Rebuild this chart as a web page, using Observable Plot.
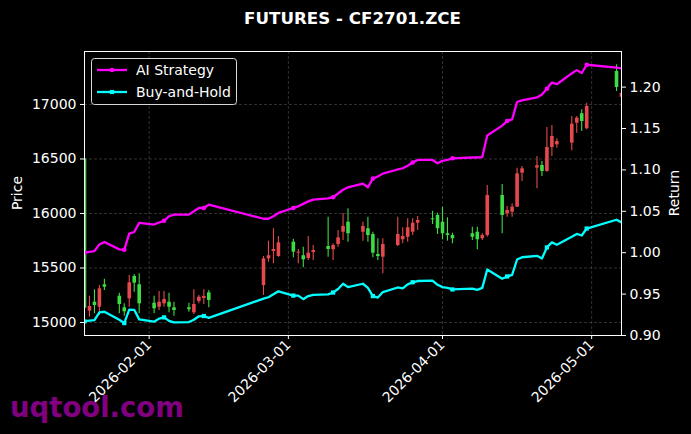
<!DOCTYPE html>
<html>
<head>
<meta charset="utf-8">
<script src="https://cdn.jsdelivr.net/npm/d3@7"></script>
<script src="https://cdn.jsdelivr.net/npm/@observablehq/plot@0.6"></script>
<style>
  html, body { margin: 0; padding: 0; background: #000; }
  #wrap { position: relative; width: 691px; height: 434px; background: #000; overflow: hidden; }
  #wrap > svg { position: absolute; left: 0; top: 0; }
</style>
</head>
<body>
<div id="wrap"></div>
<script>
// ---------------- data ----------------
const dates = [
  "2026-01-19","2026-01-20","2026-01-21","2026-01-22","2026-01-23",
  "2026-01-26","2026-01-27","2026-01-28","2026-01-29","2026-01-30",
  "2026-02-02","2026-02-03","2026-02-04","2026-02-05","2026-02-06",
  "2026-02-09","2026-02-10","2026-02-11","2026-02-12","2026-02-13",
  "2026-02-24","2026-02-25","2026-02-26","2026-02-27",
  "2026-03-02","2026-03-03","2026-03-04","2026-03-05","2026-03-06",
  "2026-03-09","2026-03-10","2026-03-11","2026-03-12","2026-03-13",
  "2026-03-16","2026-03-17","2026-03-18","2026-03-19","2026-03-20",
  "2026-03-23","2026-03-24","2026-03-25","2026-03-26","2026-03-27",
  "2026-03-30","2026-03-31","2026-04-01","2026-04-02","2026-04-03",
  "2026-04-07","2026-04-08","2026-04-09","2026-04-10",
  "2026-04-13","2026-04-14","2026-04-15","2026-04-16","2026-04-17",
  "2026-04-20","2026-04-21","2026-04-22","2026-04-23","2026-04-24",
  "2026-04-27","2026-04-28","2026-04-29","2026-04-30",
  "2026-05-06","2026-05-07"
];
const opens = [
  16500,15104,15186,15140,15346,
  15241,15135,15217,15422,15346,
  15177,15140,15171,15186,15135,
  15135,15089,15193,15220,15272,
  15339,15584,15651,15605,
  15737,15636,15612,15587,15642,
  15697,15667,15716,15828,15920,
  15828,15860,15807,15624,15599,
  15706,15759,15782,15828,15911,
  15951,15982,15920,15814,15798,
  15814,15828,15768,15798,
  16165,15997,16012,16058,16370,
  16416,16440,16385,16605,16630,
  16645,16828,16915,16777,
  17303,17067
];
const highs = [
  16500,15241,15300,15339,15397,
  15269,15171,15431,15440,15447,
  15241,15284,15284,15269,15186,
  15177,15300,15248,15300,15294,
  15605,15746,15860,15789,
  15764,15670,15691,15789,15706,
  15966,15722,15844,16000,16043,
  15920,15966,15828,15768,15768,
  15966,15869,15951,15951,15972,
  16021,16003,16058,15960,15819,
  15874,15874,15816,16257,
  16266,16064,16089,16416,16431,
  16523,16477,16789,16807,16685,
  16890,16890,16951,17012,
  17364,17110
];
const lows = [
  14800,15049,15080,15064,15294,
  15080,15058,15140,15278,15080,
  15080,15110,15140,15089,15058,
  15094,15073,15171,15165,15135,
  15248,15553,15539,15599,
  15593,15539,15502,15569,15569,
  15599,15569,15691,15752,15737,
  15746,15737,15593,15569,15447,
  15697,15722,15737,15798,15844,
  15899,15807,15759,15746,15722,
  15752,15667,15752,15782,
  15814,15966,15966,16055,16294,
  16227,16339,16379,16523,16599,
  16575,16737,16752,16768,
  17119,17060
];
const closes = [
  15130,15147,15156,15309,15324,
  15165,15098,15364,15361,15171,
  15126,15186,15211,15140,15110,
  15117,15165,15232,15238,15202,
  15584,15612,15670,15731,
  15645,15645,15575,15636,15660,
  15670,15706,15777,15881,15814,
  15881,15798,15636,15605,15716,
  15807,15789,15869,15911,15936,
  15942,15860,15814,15798,15768,
  15782,15759,15798,16165,
  15982,16027,16058,16364,16410,
  16438,16385,16605,16706,16660,
  16819,16874,16844,16982,
  17156,17104
];
const aiReturn = [
  1.000,1.001,1.002,1.010,1.013,
  1.004,1.0035,1.023,1.025,1.036,
  1.034,1.0365,1.0385,1.044,1.046,
  1.046,1.050,1.054,1.054,1.058,
  1.041,1.041,1.044,1.048,
  1.054,1.056,1.059,1.062,1.064,
  1.0655,1.067,1.0715,1.076,1.079,
  1.0835,1.079,1.0895,1.092,1.0955,
  1.1005,1.102,1.105,1.109,1.112,
  1.112,1.108,1.111,1.112,1.114,
  1.115,1.115,1.1155,1.1415,
  1.1535,1.159,1.161,1.182,1.184,
  1.1875,1.191,1.198,1.2055,1.2035,
  1.2165,1.2205,1.217,1.227,
  1.2235,1.2225
];
const bhReturn = [
  0.917,0.918,0.9185,0.928,0.9287,
  0.9191,0.915,0.9312,0.931,0.9195,
  0.9167,0.9204,0.9219,0.9176,0.9158,
  0.9162,0.9191,0.9232,0.9235,0.9213,
  0.9445,0.9462,0.9497,0.9534,
  0.9482,0.9482,0.9439,0.9476,0.9491,
  0.9497,0.9519,0.9562,0.9625,0.9584,
  0.9625,0.9575,0.9476,0.9458,0.9525,
  0.958,0.9569,0.9618,0.9643,0.9658,
  0.9662,0.9612,0.9584,0.9575,0.9556,
  0.9565,0.9551,0.9575,0.9797,
  0.9686,0.9713,0.9732,0.9918,0.9945,
  0.9962,0.993,1.0064,1.0125,1.0097,
  1.0193,1.0227,1.0208,1.0292,
  1.0398,1.0366
];
const xTickLabels = ["2026-02-01","2026-03-01","2026-04-01","2026-05-01"];
const priceTicks = [15000,15500,16000,16500,17000];
const returnTicks = [0.90,0.95,1.00,1.05,1.10,1.15,1.20];
const seriesNames = ["AI Strategy","Buy-and-Hold"];
const titleText = "FUTURES - CF2701.ZCE";

// ---------------- build ----------------
const UP = "#e5484d", DOWN = "#3ddc44", MAG = "#ff00ff", CYA = "#00ffff";
const rows = dates.map((d, i) => ({
  date: new Date(d + "T00:00:00Z"),
  open: opens[i], high: highs[i], low: lows[i], close: closes[i],
  ai: aiReturn[i], bh: bhReturn[i], idx: i,
  color: closes[i] >= opens[i] ? UP : DOWN
}));
const marked = rows.filter(d => d.idx % 6 === 0);
const xDomain = [new Date("2026-01-19T00:00:00Z"), new Date("2026-05-07T00:00:00Z")];
const xTicks = xTickLabels.map(s => new Date(s + "T00:00:00Z"));
const common = {
  width: 691, height: 434,
  marginTop: 51, marginBottom: 99, marginLeft: 84, marginRight: 70,
  style: { background: "none", color: "#ffffff", fontFamily: "DejaVu Sans, sans-serif", fontSize: "14px", overflow: "visible" }
};
const gridStyle = { stroke: "#808080", strokeOpacity: 0.55, strokeWidth: 0.7, strokeDasharray: "3,2" };

const p1 = Plot.plot({
  ...common,
  x: { type: "utc", domain: xDomain, label: null },
  y: { domain: [14880.7, 17486], label: null },
  marks: [
    Plot.gridX(xTicks, gridStyle),
    Plot.gridY(priceTicks, gridStyle),
    Plot.ruleX(rows, { x: "date", y1: "low", y2: "high", stroke: "color", strokeWidth: 1.1, clip: true }),
    Plot.ruleX(rows, { x: "date", y1: "open", y2: "close", stroke: "color", strokeWidth: 3.6, clip: true }),
    Plot.axisY({ ticks: priceTicks, anchor: "left", tickSize: 4, tickPadding: 4, label: null, tickFormat: d => String(d), stroke: "#fff" }),
    Plot.axisX({ ticks: xTicks, anchor: "bottom", tickSize: 4, tickPadding: 3, tickRotate: -45, label: null, tickFormat: d3.utcFormat("%Y-%m-%d"), stroke: "#fff" })
  ]
});

const p2 = Plot.plot({
  ...common,
  x: { type: "utc", domain: xDomain, axis: null },
  y: { domain: [0.90, 1.243], label: null },
  marks: [
    Plot.line(rows, { x: "date", y: "ai", stroke: MAG, strokeWidth: 2.3, clip: true }),
    Plot.line(rows, { x: "date", y: "bh", stroke: CYA, strokeWidth: 2.3, clip: true }),
    Plot.dot(marked, { x: "date", y: "ai", r: 2.3, fill: MAG, stroke: null, clip: true }),
    Plot.dot(marked, { x: "date", y: "bh", r: 2.4, symbol: "square", fill: CYA, stroke: null, clip: true }),
    Plot.frame({ stroke: "#ffffff", strokeWidth: 1 }),
    Plot.axisY({ ticks: returnTicks, anchor: "right", tickSize: 4, tickPadding: 4, label: null, tickFormat: d => d.toFixed(2), stroke: "#fff" })
  ]
});

const wrap = document.getElementById("wrap");
wrap.appendChild(p1);
wrap.appendChild(p2);

// overlay: title, axis titles, legend, watermark
const ns = "http://www.w3.org/2000/svg";
const ov = document.createElementNS(ns, "svg");
ov.setAttribute("width", 691); ov.setAttribute("height", 434);
ov.setAttribute("font-family", "DejaVu Sans, sans-serif");
ov.innerHTML = `
  <text x="352.5" y="24" text-anchor="middle" font-size="16.7" font-weight="bold" fill="#fff">${titleText}</text>
  <text transform="translate(22,193) rotate(-90)" text-anchor="middle" font-size="14" fill="#fff">Price</text>
  <text transform="translate(679,193) rotate(-90)" text-anchor="middle" font-size="14" fill="#fff">Return</text>
  <rect x="91.5" y="58.5" width="145" height="46" rx="3" fill="rgba(0,0,0,0.8)" stroke="#d8d8d8" stroke-width="1"/>
  <line x1="97" y1="70" x2="127" y2="70" stroke="${MAG}" stroke-width="2.3"/>
  <circle cx="112" cy="70" r="2.3" fill="${MAG}"/>
  <text x="136" y="75" font-size="14" fill="#fff">${seriesNames[0]}</text>
  <line x1="97" y1="92" x2="127" y2="92" stroke="${CYA}" stroke-width="2.3"/>
  <rect x="109.9" y="89.9" width="4.2" height="4.2" fill="${CYA}"/>
  <text x="136" y="97" font-size="14" fill="#fff">${seriesNames[1]}</text>
  <text x="10" y="417" font-size="27.5" font-weight="bold" fill="#800080">uqtool.com</text>
`;
wrap.appendChild(ov);
</script>
</body>
</html>
